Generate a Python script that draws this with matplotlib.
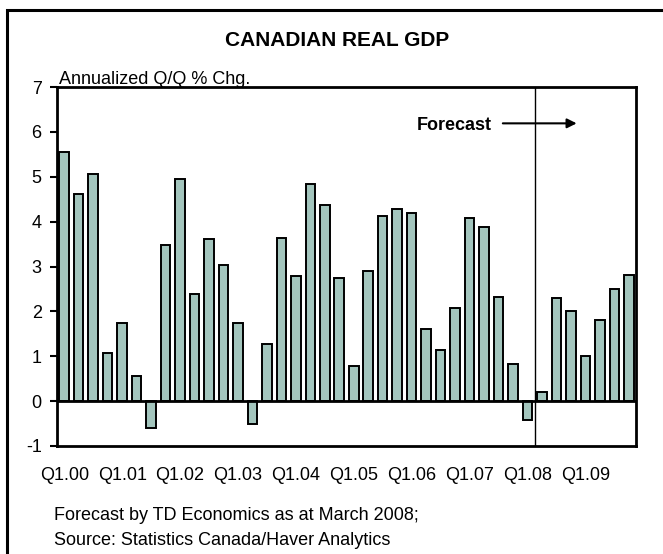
import numpy as np
import matplotlib
matplotlib.use("Agg")
import matplotlib.pyplot as plt
from matplotlib.patches import Rectangle

plt.rcParams['font.family'] = ['Liberation Sans', 'DejaVu Sans']

# quarterly real GDP growth, Q1 2000 .. Q4 2009 (annualized q/q % chg.)
quarters = [f"Q{q}.{y:02d}" for y in range(0, 10) for q in range(1, 5)]
gdp = [5.56, 4.62, 5.07, 1.08,
       1.73, 0.57, -0.61, 3.48,
       4.95, 2.38, 3.62, 3.03,
       1.75, -0.51, 1.27, 3.63,
       2.78, 4.84, 4.37, 2.75,
       0.78, 2.90, 4.13, 4.29,
       4.20, 1.60, 1.14, 2.08,
       4.07, 3.89, 2.32, 0.83,
       -0.41, 0.21, 2.30, 2.00,
       1.00, 1.81, 2.50, 2.80]
forecast_start = "Q2.08"
yticks = list(range(-1, 8))

W, H = 663, 554
fig = plt.figure(figsize=(W / 100, H / 100), dpi=100)
ax = fig.add_axes([57 / W, 1 - 446 / H, (636 - 57) / W, (446 - 87) / H])

x = np.arange(len(gdp))
ax.bar(x, gdp, width=0.66, color='#a3c5bd', edgecolor='black', linewidth=1.4, zorder=2)
ax.axhline(0, color='black', linewidth=2, zorder=3)

fc = quarters.index(forecast_start) - 0.5
ax.axvline(fc, color='black', linewidth=1, zorder=3)

ax.set_xlim(-0.5, len(gdp) - 0.5)
ax.set_ylim(-1, 7)
ax.set_yticks(yticks)
ax.set_yticklabels([str(t) for t in yticks], fontsize=13)
ax.tick_params(axis='y', direction='out', length=5, width=1.5, pad=6)
q1 = [i for i, q in enumerate(quarters) if q.startswith("Q1")]
ax.set_xticks(q1)
ax.set_xticklabels([quarters[i] for i in q1], fontsize=13)
ax.tick_params(axis='x', length=0, pad=15)
for s in ax.spines.values():
    s.set_linewidth(2)

ax.text(24.35, 6.04, "Forecast", fontsize=13, fontweight='bold', ha='left', va='baseline')
ax.annotate("", xy=(35.4, 6.19), xytext=(30.3, 6.19),
            arrowprops=dict(arrowstyle='-|>', color='black', lw=1.5,
                            mutation_scale=14, shrinkA=0, shrinkB=0))

fig.text(337.5 / W, 1 - 46.5 / H, "CANADIAN REAL GDP", fontsize=15, fontweight='bold',
         ha='center', va='baseline')
fig.text(59 / W, 1 - 83.5 / H, "Annualized Q/Q % Chg.", fontsize=13, ha='left', va='baseline')
fig.text(54 / W, 1 - 520 / H, "Forecast by TD Economics as at March 2008;", fontsize=13,
         ha='left', va='baseline')
fig.text(54 / W, 1 - 545 / H, "Source: Statistics Canada/Haver Analytics", fontsize=13,
         ha='left', va='baseline')

# outer frame runs off the right and bottom edges
fig.patches.append(Rectangle((7 / W, -0.1), 1.2, 1 - 10 / H + 0.1, transform=fig.transFigure,
                             fill=False, edgecolor='black', linewidth=2.2))

fig.savefig("out.png", dpi=100)
